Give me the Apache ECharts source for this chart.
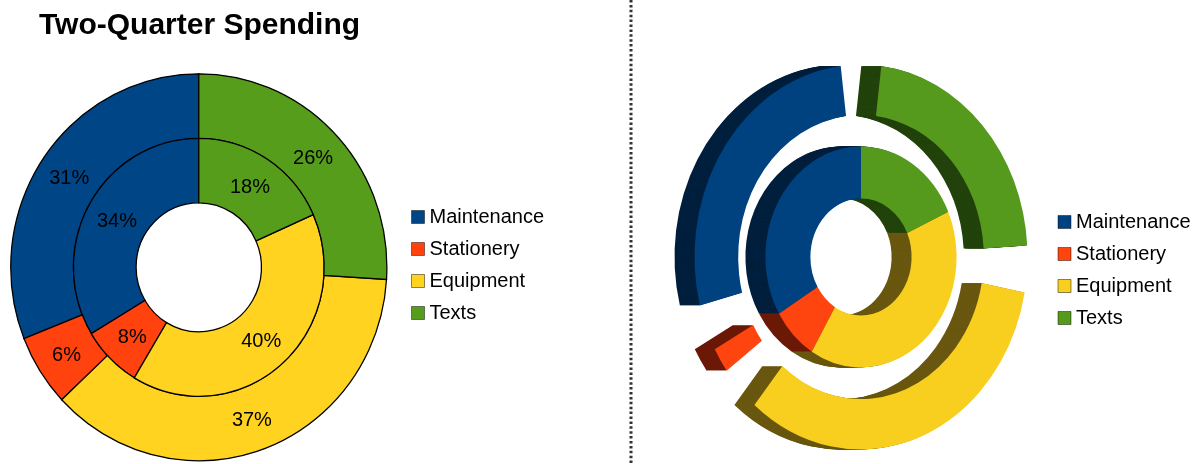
<!DOCTYPE html>
<html>
<head>
<meta charset="utf-8">
<style>
  html, body { margin: 0; padding: 0; background: #fff; }
  #chart { width: 1200px; height: 464px; }
</style>
<script src="https://cdn.jsdelivr.net/npm/echarts@6/dist/echarts.min.js"></script>
</head>
<body>
<div id="chart"></div>
<script>
const categories = ["Maintenance", "Stationery", "Equipment", "Texts"];
const outerShare = [31, 6, 37, 26];
const innerShare = [33.6, 7.8, 40.3, 18.3];

const flatColors = ["#004586", "#ff420e", "#ffd320", "#579d1c"];
const frontColors = ["#00427f", "#ff450f", "#f9cf1f", "#559a1d"];
const sideColors = ["#001f3d", "#6b1806", "#69570f", "#22420b"];

const FONT = "Liberation Sans";
const FLAT = { cx: 198.8, cy: 267.3, squash: 0.972, radii: [64.5, 129, 193.5], labelDy: 1.5 };
const SOLID = { cx: 861, cy: 257, squash: 0.865, inner: [58.5, 110.5], outer: [142, 192.5] };
const DEPTH = 20;
const OUTER_GAP = 7; // degrees trimmed off each end of an outer slice

// start/end of each slice in degrees clockwise from 12 o'clock, going counter-clockwise
function sliceAngles(shares) {
  let used = 0;
  return shares.map(function (share) {
    const end = 360 * (1 - used / 100);
    used += share;
    return [360 * (1 - used / 100), end];
  });
}

const outerAngles = sliceAngles(outerShare);
const innerAngles = sliceAngles(innerShare);

function toRad(deg) {
  return ((deg - 90) * Math.PI) / 180;
}

function sector(geo, from, to, r0, r, style, offset, z2) {
  return {
    type: "sector",
    x: geo.cx - offset,
    y: geo.cy,
    scaleX: geo.squash,
    z2: z2,
    silent: true,
    shape: { cx: 0, cy: 0, r0: r0, r: r, startAngle: toRad(from), endAngle: toRad(to), clockwise: true },
    style: style
  };
}

// left chart: flat slice with a black outline and its percent label
function renderFlat(catIndex) {
  return function (params, api) {
    const isOuter = params.dataIndex === 0;
    const ang = (isOuter ? outerAngles : innerAngles)[catIndex];
    const r0 = isOuter ? FLAT.radii[1] : FLAT.radii[0];
    const r = isOuter ? FLAT.radii[2] : FLAT.radii[1];
    const mid = ((ang[0] + ang[1]) / 2) * (Math.PI / 180);
    const labelR = (r0 + r) / 2;
    return {
      type: "group",
      children: [
        sector(FLAT, ang[0], ang[1], r0, r, { fill: flatColors[catIndex], stroke: "#000", lineWidth: 1.3 }, 0, 1),
        {
          type: "text",
          silent: true,
          z2: 5,
          x: FLAT.cx + labelR * Math.sin(mid) * FLAT.squash,
          y: FLAT.cy - labelR * Math.cos(mid) + FLAT.labelDy,
          style: {
            text: Math.round(api.value(0)) + "%",
            fontFamily: FONT,
            fontSize: 20,
            fill: "#000",
            align: "center",
            verticalAlign: "middle"
          }
        }
      ]
    };
  };
}

// right chart: one ring slice plus the dark side wall swept out behind it
function renderSolid(catIndex) {
  return function (params) {
    const isOuter = params.dataIndex === 0;
    const ang = (isOuter ? outerAngles : innerAngles)[catIndex];
    const gap = isOuter ? OUTER_GAP : 0;
    const radii = isOuter ? SOLID.outer : SOLID.inner;
    const children = [];
    for (let d = DEPTH; d >= 1; d--) {
      children.push(sector(SOLID, ang[0] + gap, ang[1] - gap, radii[0], radii[1], { fill: sideColors[catIndex] }, d, DEPTH - d));
    }
    children.push(sector(SOLID, ang[0] + gap, ang[1] - gap, radii[0], radii[1], { fill: frontColors[catIndex] }, 0, DEPTH + 10));
    return { type: "group", children: children };
  };
}

function legendAt(left, top, colors) {
  return {
    orient: "vertical",
    left: left,
    top: top,
    icon: "rect",
    itemWidth: 13,
    itemHeight: 13,
    itemGap: 12,
    selectedMode: false,
    textStyle: { fontFamily: FONT, fontSize: 20, color: "#000", lineHeight: 20 },
    itemStyle: { borderColor: "rgba(0,0,0,0.45)", borderWidth: 1 },
    data: categories.map(function (name, i) {
      return { name: name, itemStyle: { color: colors[i] } };
    })
  };
}

function sliceSeries(renderer, colors) {
  return categories.map(function (name, i) {
    return {
      type: "custom",
      name: name,
      coordinateSystem: "none",
      animation: false,
      silent: true,
      itemStyle: { color: colors[i] },
      renderItem: renderer(i),
      data: [outerShare[i], innerShare[i]]
    };
  });
}

const chart = echarts.init(document.getElementById("chart"), null, { renderer: "canvas" });
chart.setOption({
  animation: false,
  backgroundColor: "#fff",
  tooltip: { show: false },
  title: {
    text: "Two-Quarter Spending",
    left: 34,
    top: 6,
    textStyle: { fontFamily: FONT, fontSize: 30, fontWeight: "bold", color: "#000" }
  },
  legend: [legendAt(406, 202, flatColors), legendAt(1052.5, 207, frontColors)],
  graphic: [
    {
      type: "line",
      silent: true,
      shape: { x1: 631, y1: 0, x2: 631, y2: 464 },
      style: { stroke: "#333", lineWidth: 3, lineDash: [2.5, 2.4] }
    }
  ],
  series: sliceSeries(renderFlat, flatColors).concat(sliceSeries(renderSolid, frontColors))
});
</script>
</body>
</html>
